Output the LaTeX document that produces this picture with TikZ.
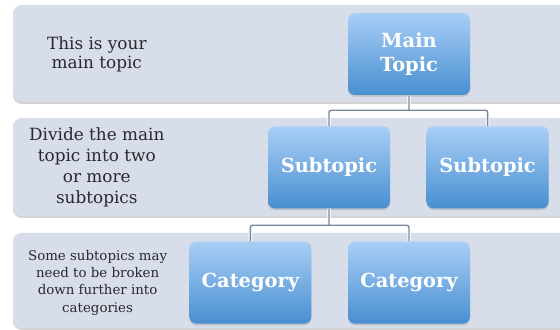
\documentclass[tikz,border=0pt]{standalone}
\usepackage{fontspec}
\setmainfont{DejaVu Serif}
\definecolor{bandgray}{RGB}{216, 222, 233}
\definecolor{boxtop}{RGB}{168, 206, 246}
\definecolor{boxbot}{RGB}{72, 143, 208}
\definecolor{linkgray}{RGB}{118, 136, 160}
\definecolor{notetext}{RGB}{40, 40, 48}
\usepackage{tikz}
\usetikzlibrary{shadows}

\begin{document}
\begin{tikzpicture}[
  band/.style={fill=bandgray, rounded corners=6pt, drop shadow={shadow xshift=0pt, shadow yshift=-1.3pt, opacity=0.35}},
  topicbox/.style={rounded corners=5pt, top color=boxtop, bottom color=boxbot, minimum width=3.05cm, minimum height=2.05cm, inner sep=2pt, text=white, align=center, font=\fontsize{13.8}{17}\selectfont\bfseries, drop shadow={shadow xshift=0pt, shadow yshift=-1.2pt, opacity=0.3}},
  note/.style={text=notetext, align=center},
  link/.style={draw=linkgray, line width=1pt, rounded corners=1.5pt, preaction={draw=white, line width=2.4pt}}
]
  \useasboundingbox (0, 0) rectangle (14, 8.225);
  \clip (0, 0) rectangle (14, 8.225);

  % Bands
  \fill[band] (0.325, 5.675) rectangle (14.5, 8.1);
  \fill[band] (0.325, 2.825) rectangle (14.5, 5.275);
  \fill[band] (0.325, 0.025) rectangle (14.5, 2.4);

  % Notes
  \node[note, font=\fontsize{12}{13.5}\selectfont] (note1) at (2.42, 6.875) {This is your\\main topic};
  \node[note, font=\fontsize{12}{15}\selectfont] (note2) at (2.42, 4.05) {Divide the main\\topic into two\\or more\\subtopics};
  \node[note, font=\fontsize{9.5}{12.3}\selectfont] (note3) at (2.44, 1.16) {Some subtopics may\\need to be broken\\down further into\\categories};

  % Hierarchy
  \node[topicbox] (main) at (10.225, 6.875) {Main\\Topic};
  \node[topicbox] (sub1) at (8.225, 4.04) {Subtopic};
  \node[topicbox] (sub2) at (12.19, 4.04) {Subtopic};
  \node[topicbox] (cat1) at (6.26, 1.16) {Category};
  \node[topicbox] (cat2) at (10.225, 1.16) {Category};

  % Connectors
  \path (main.south) ++(0, -0.375) coordinate (j1);
  \path (sub1.south) ++(0, -0.415) coordinate (j2);
  \draw[link] (main.south) -- (j1) (sub1.north) |- (j1) -| (sub2.north);
  \draw[link] (sub1.south) -- (j2) (cat1.north) |- (j2) -| (cat2.north);
\end{tikzpicture}
\end{document}
